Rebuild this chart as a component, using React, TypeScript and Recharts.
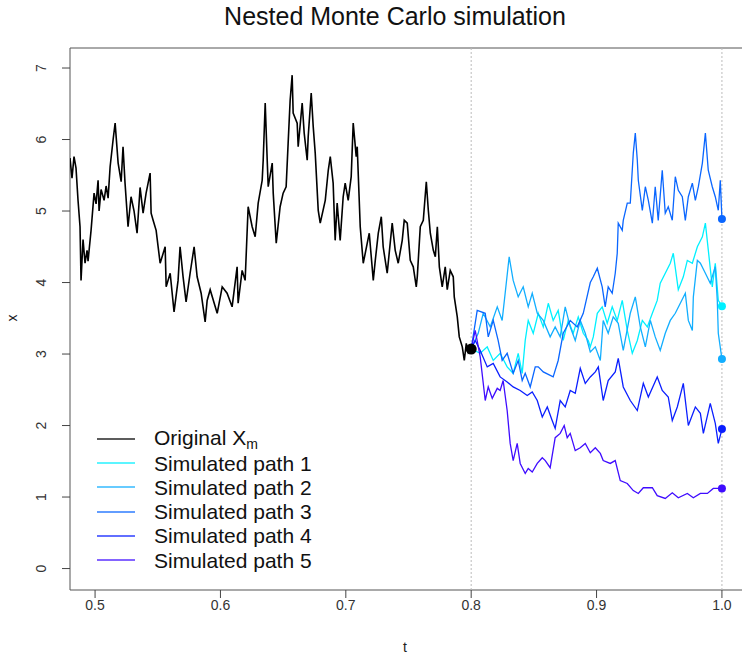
import { LineChart, Line, XAxis, YAxis, ReferenceLine, ReferenceArea, ReferenceDot } from "recharts"

// time grid and values, as [t, x]
const original: [number, number][] = [
  [0.4800, 5.74], [0.4816, 5.46], [0.4832, 5.76], [0.4848, 5.60], [0.4864, 5.15], [0.4880, 4.78], [0.4888, 4.03],
  [0.4904, 4.60], [0.4920, 4.27], [0.4936, 4.45], [0.4944, 4.30], [0.4968, 4.73], [0.4992, 5.25], [0.5008, 5.10],
  [0.5024, 5.43], [0.5032, 5.00], [0.5048, 5.30], [0.5072, 5.15], [0.5088, 5.35], [0.5104, 5.18], [0.5120, 5.62],
  [0.5144, 6.00], [0.5160, 6.23], [0.5184, 5.67], [0.5208, 5.41], [0.5223, 5.90], [0.5239, 5.39], [0.5263, 4.78],
  [0.5287, 5.20], [0.5311, 5.00], [0.5335, 4.69], [0.5359, 5.33], [0.5383, 4.97], [0.5407, 5.25], [0.5439, 5.53],
  [0.5447, 4.97], [0.5463, 4.87], [0.5487, 4.73], [0.5503, 4.50], [0.5519, 4.27], [0.5559, 4.50], [0.5567, 3.94],
  [0.5599, 4.13], [0.5630, 3.59], [0.5662, 4.03], [0.5678, 4.50], [0.5702, 4.08], [0.5726, 3.73], [0.5758, 4.13],
  [0.5790, 4.50], [0.5814, 4.08], [0.5846, 3.85], [0.5878, 3.45], [0.5894, 3.75], [0.5918, 3.90], [0.5974, 3.57],
  [0.6014, 3.94], [0.6053, 3.85], [0.6093, 3.66], [0.6133, 4.22], [0.6141, 3.71], [0.6173, 4.17], [0.6197, 4.03],
  [0.6221, 5.06], [0.6253, 4.78], [0.6277, 4.64], [0.6301, 5.11], [0.6333, 5.43], [0.6341, 5.71], [0.6357, 6.51],
  [0.6373, 5.71], [0.6381, 5.34], [0.6413, 5.67], [0.6421, 5.25], [0.6445, 4.55], [0.6476, 5.06], [0.6500, 5.25],
  [0.6524, 5.34], [0.6540, 5.95], [0.6556, 6.55], [0.6572, 6.90], [0.6580, 6.37], [0.6612, 6.23], [0.6620, 5.90],
  [0.6652, 6.51], [0.6668, 6.09], [0.6692, 5.71], [0.6700, 6.04], [0.6724, 6.65], [0.6740, 6.18], [0.6756, 5.81],
  [0.6780, 5.01], [0.6796, 4.83], [0.6836, 5.15], [0.6860, 5.57], [0.6876, 5.76], [0.6899, 5.39], [0.6915, 4.59],
  [0.6931, 5.11], [0.6955, 4.59], [0.6979, 5.20], [0.6995, 5.39], [0.7019, 5.15], [0.7043, 5.48], [0.7059, 6.23],
  [0.7083, 5.76], [0.7091, 5.90], [0.7115, 4.78], [0.7139, 4.27], [0.7171, 4.55], [0.7187, 4.69], [0.7219, 4.03],
  [0.7235, 4.31], [0.7259, 4.69], [0.7283, 4.92], [0.7298, 4.50], [0.7330, 4.13], [0.7370, 4.83], [0.7394, 4.45],
  [0.7418, 4.27], [0.7450, 4.59], [0.7466, 4.87], [0.7490, 4.83], [0.7514, 4.31], [0.7538, 4.22], [0.7562, 3.94],
  [0.7570, 4.08], [0.7594, 4.78], [0.7618, 4.87], [0.7642, 5.41], [0.7658, 5.01], [0.7674, 4.69], [0.7698, 4.45],
  [0.7714, 4.36], [0.7730, 4.78], [0.7746, 4.22], [0.7769, 3.94], [0.7793, 4.22], [0.7809, 3.90], [0.7833, 4.17],
  [0.7857, 4.08], [0.7865, 3.80], [0.7889, 3.52], [0.7905, 3.24], [0.7929, 3.10], [0.7945, 2.91], [0.7961, 3.15],
  [0.7977, 3.02], [0.8000, 3.07],
]

const path1: [number, number][] = [
  [0.8, 3.07], [0.8072, 3.01], [0.8128, 3.10], [0.8176, 2.91], [0.8231, 3.01], [0.8287, 2.82], [0.8335, 2.73],
  [0.8375, 3.01], [0.8407, 2.73], [0.8431, 3.19], [0.8455, 3.47], [0.8495, 3.29], [0.8535, 3.57], [0.8575, 3.38],
  [0.8615, 3.71], [0.8654, 3.47], [0.8694, 3.61], [0.8734, 3.19], [0.8774, 3.47], [0.8814, 3.29], [0.8854, 3.52],
  [0.8894, 3.29], [0.8934, 3.19], [0.8950, 3.10], [0.8974, 3.24], [0.9006, 3.57], [0.9045, 3.66], [0.9085, 3.43],
  [0.9125, 3.66], [0.9165, 3.47], [0.9205, 3.75], [0.9245, 3.33], [0.9285, 3.01], [0.9325, 3.19], [0.9365, 3.47],
  [0.9405, 3.38], [0.9445, 3.57], [0.9484, 3.75], [0.9508, 3.99], [0.9548, 4.13], [0.9588, 4.27], [0.9612, 4.41],
  [0.9652, 3.90], [0.9692, 4.08], [0.9724, 4.31], [0.9764, 4.27], [0.9804, 4.50], [0.9844, 4.64], [0.9868, 4.83],
  [0.9923, 3.94], [0.9947, 4.27], [0.9971, 3.75], [1.0, 3.67],
]

const path2: [number, number][] = [
  [0.8, 3.07], [0.8056, 3.29], [0.8096, 3.57], [0.8152, 3.38], [0.8208, 3.66], [0.8247, 3.47], [0.8271, 3.85],
  [0.8303, 4.36], [0.8335, 4.03], [0.8375, 3.80], [0.8415, 3.94], [0.8455, 3.66], [0.8487, 3.85], [0.8527, 3.57],
  [0.8575, 3.47], [0.8630, 3.24], [0.8670, 3.38], [0.8710, 3.24], [0.8750, 3.66], [0.8790, 3.38], [0.8830, 3.19],
  [0.8870, 3.47], [0.8910, 3.29], [0.8950, 3.03], [0.8990, 3.10], [0.9030, 2.91], [0.9053, 3.47], [0.9093, 3.29],
  [0.9133, 3.52], [0.9173, 3.43], [0.9213, 3.05], [0.9269, 3.57], [0.9309, 3.80], [0.9349, 3.38], [0.9389, 3.10],
  [0.9429, 3.47], [0.9468, 3.24], [0.9508, 3.05], [0.9548, 3.29], [0.9588, 3.47], [0.9628, 3.57], [0.9668, 3.71],
  [0.9708, 3.85], [0.9732, 3.47], [0.9764, 3.33], [0.9772, 3.80], [0.9804, 4.31], [0.9828, 4.27], [0.9868, 4.13],
  [0.9907, 3.99], [0.9947, 4.22], [0.9963, 3.75], [0.9971, 3.29], [1.0, 2.93],
]

const path3: [number, number][] = [
  [0.8, 3.07], [0.8048, 3.61], [0.8112, 3.57], [0.8136, 3.24], [0.8176, 3.47], [0.8215, 3.19], [0.8247, 2.91],
  [0.8287, 3.01], [0.8335, 2.73], [0.8375, 2.91], [0.8407, 2.63], [0.8431, 2.73], [0.8471, 2.54], [0.8511, 2.82],
  [0.8535, 2.82], [0.8575, 2.75], [0.8654, 2.68], [0.8694, 2.91], [0.8734, 3.29], [0.8790, 3.47], [0.8846, 3.38],
  [0.8894, 3.57], [0.8950, 4.00], [0.8974, 4.08], [0.9006, 4.20], [0.9045, 3.94], [0.9069, 3.66], [0.9093, 3.94],
  [0.9125, 3.85], [0.9149, 4.13], [0.9165, 4.41], [0.9173, 4.83], [0.9205, 4.73], [0.9213, 4.87], [0.9245, 5.11],
  [0.9269, 5.11], [0.9293, 5.81], [0.9309, 6.09], [0.9325, 5.71], [0.9333, 5.43], [0.9365, 5.01], [0.9389, 5.34],
  [0.9413, 5.15], [0.9445, 4.83], [0.9468, 5.34], [0.9492, 4.87], [0.9524, 5.57], [0.9548, 4.97], [0.9572, 5.06],
  [0.9604, 4.87], [0.9628, 5.48], [0.9652, 5.29], [0.9684, 5.20], [0.9708, 4.87], [0.9732, 5.20], [0.9764, 5.39],
  [0.9788, 5.15], [0.9812, 5.34], [0.9844, 5.67], [0.9868, 6.09], [0.9891, 5.57], [0.9923, 5.34], [0.9947, 5.20],
  [0.9971, 5.01], [0.9987, 5.43], [1.0, 4.89],
]

const path4: [number, number][] = [
  [0.8, 3.07], [0.8032, 3.19], [0.8072, 3.05], [0.8128, 2.82], [0.8176, 2.87], [0.8231, 2.68], [0.8287, 2.61],
  [0.8335, 2.54], [0.8391, 2.49], [0.8447, 2.42], [0.8487, 2.47], [0.8527, 2.35], [0.8567, 2.12], [0.8607, 2.26],
  [0.8646, 2.07], [0.8670, 1.96], [0.8710, 2.35], [0.8750, 2.26], [0.8790, 2.49], [0.8830, 2.45], [0.8870, 2.80],
  [0.8910, 2.59], [0.8950, 2.68], [0.8990, 2.75], [0.9014, 2.82], [0.9053, 2.35], [0.9093, 2.63], [0.9149, 2.75],
  [0.9173, 2.94], [0.9213, 2.54], [0.9269, 2.35], [0.9325, 2.21], [0.9373, 2.59], [0.9413, 2.40], [0.9484, 2.68],
  [0.9524, 2.49], [0.9572, 2.40], [0.9604, 2.07], [0.9644, 2.26], [0.9692, 2.59], [0.9732, 2.00], [0.9788, 2.26],
  [0.9828, 2.17], [0.9852, 1.89], [0.9907, 2.31], [0.9947, 2.03], [0.9971, 1.75], [1.0, 1.95],
]

const path5: [number, number][] = [
  [0.8, 3.07], [0.8032, 3.33], [0.8072, 2.96], [0.8112, 2.35], [0.8136, 2.54], [0.8168, 2.38], [0.8208, 2.52],
  [0.8231, 2.49], [0.8255, 2.63], [0.8287, 2.21], [0.8311, 1.75], [0.8335, 1.51], [0.8367, 1.75], [0.8391, 1.47],
  [0.8431, 1.33], [0.8455, 1.40], [0.8487, 1.35], [0.8527, 1.47], [0.8567, 1.55], [0.8591, 1.51], [0.8630, 1.41],
  [0.8670, 1.83], [0.8710, 1.89], [0.8742, 2.00], [0.8766, 1.83], [0.8790, 1.89], [0.8830, 1.65], [0.8870, 1.69],
  [0.8910, 1.75], [0.8950, 1.62], [0.8990, 1.69], [0.9030, 1.61], [0.9053, 1.51], [0.9109, 1.47], [0.9149, 1.51],
  [0.9189, 1.23], [0.9245, 1.19], [0.9293, 1.09], [0.9333, 1.05], [0.9373, 1.13], [0.9445, 1.13], [0.9484, 1.02],
  [0.9548, 0.98], [0.9604, 1.06], [0.9652, 0.99], [0.9724, 1.05], [0.9772, 0.99], [0.9828, 1.05], [0.9884, 1.05],
  [0.9931, 1.12], [1.0, 1.12],
]

const simPaths = [path1, path2, path3, path4, path5]
const simNames = ["Simulated path 1", "Simulated path 2", "Simulated path 3", "Simulated path 4", "Simulated path 5"]
const simColors = ["#00F0FF", "#12AEFF", "#0A66FF", "#0A1EFF", "#3F0CFF"]

const xTicks = [0.5, 0.6, 0.7, 0.8, 0.9, 1.0]
const yTicks = [0, 1, 2, 3, 4, 5, 6, 7]

const FONT = '"Liberation Sans", Arial, sans-serif'

const toPoints = (p: [number, number][]) => p.map(([t, x]) => ({ t, x }))

// R style: y labels parallel to the axis
const RotatedTick = ({ x, y, payload }: any) => (
  <text
    x={x - 21}
    y={y}
    transform={`rotate(-90, ${x - 21}, ${y})`}
    textAnchor="middle"
    dominantBaseline="central"
    fontSize={14}
    fill="#333"
    fontFamily={FONT}
  >
    {payload.value}
  </text>
)

export default function App() {
  const last = (p: [number, number][]) => p[p.length - 1]
  const splitPoint = last(original)

  return (
    <div
      style={{
        position: "absolute",
        left: 0,
        top: 0,
        width: 742,
        height: 655,
        overflow: "hidden",
        background: "#fff",
        fontFamily: FONT,
      }}
    >
      <div style={{ position: "absolute", left: 0, top: 2, width: 790, textAlign: "center", fontSize: 25, color: "#111" }}>
        Nested Monte Carlo simulation
      </div>

      <LineChart width={760} height={655} margin={{ top: 48, right: 13, bottom: 0, left: 0 }}>
        <XAxis
          dataKey="t"
          type="number"
          domain={[0.48, 1.02]}
          ticks={xTicks}
          allowDataOverflow
          tickFormatter={(v: number) => v.toFixed(1)}
          axisLine={false}
          tickLine={{ stroke: "#444" }}
          tickSize={8}
          tickMargin={2}
          height={65}
          tick={{ fontSize: 14, fill: "#333", fontFamily: FONT }}
        />
        <YAxis
          dataKey="x"
          type="number"
          domain={[-0.3, 7.28]}
          ticks={yTicks}
          allowDataOverflow
          axisLine={false}
          tickLine={{ stroke: "#444" }}
          tickSize={8}
          tickMargin={0}
          width={70}
          tick={<RotatedTick />}
        />

        <ReferenceArea x1={0.48} x2={1.02} y1={-0.3} y2={7.28} fill="none" stroke="#555" strokeWidth={1} />
        <ReferenceLine x={0.8} stroke="#bbb" strokeDasharray="2 2" />
        <ReferenceLine x={1.0} stroke="#bbb" strokeDasharray="2 2" />

        <Line
          data={toPoints(original)}
          dataKey="x"
          name="Original X_m"
          type="linear"
          stroke="#000"
          strokeWidth={1.6}
          dot={false}
          activeDot={false}
          isAnimationActive={false}
        />
        {simPaths.map((p, i) => (
          <Line
            key={simNames[i]}
            data={toPoints(p)}
            dataKey="x"
            name={simNames[i]}
            type="linear"
            stroke={simColors[i]}
            strokeWidth={1.3}
            dot={false}
            activeDot={false}
            isAnimationActive={false}
          />
        ))}

        {simPaths.map((p, i) => (
          <ReferenceDot key={"end" + i} x={last(p)[0]} y={last(p)[1]} r={4} fill={simColors[i]} stroke="none" />
        ))}
        <ReferenceDot x={splitPoint[0]} y={splitPoint[1]} r={5.5} fill="#000" stroke="none" />
      </LineChart>

      <div style={{ position: "absolute", left: 403, top: 639, fontSize: 14, color: "#222" }}>t</div>
      <div
        style={{
          position: "absolute",
          left: 8,
          top: 310,
          fontSize: 14,
          color: "#222",
          transform: "rotate(-90deg)",
        }}
      >
        x
      </div>

      <div style={{ position: "absolute", left: 95, top: 427 }}>
        {[{ name: "Original X", color: "#000" }, ...simNames.map((n, i) => ({ name: n, color: simColors[i] }))].map(
          (item, i) => (
            <div key={item.name} style={{ display: "flex", alignItems: "center", height: 24.2 }}>
              <svg width={59} height={24}>
                <line x1={2} x2={40} y1={12} y2={12} stroke={item.color} strokeWidth={1.5} opacity={0.85} />
              </svg>
              <span style={{ fontSize: 21, color: "#111", whiteSpace: "nowrap", lineHeight: "21px" }}>
                {item.name}
                {i === 0 && (
                  <span style={{ fontSize: 14, lineHeight: "14px", display: "inline-block", verticalAlign: "-4px" }}>
                    m
                  </span>
                )}
              </span>
            </div>
          )
        )}
      </div>
    </div>
  )
}
